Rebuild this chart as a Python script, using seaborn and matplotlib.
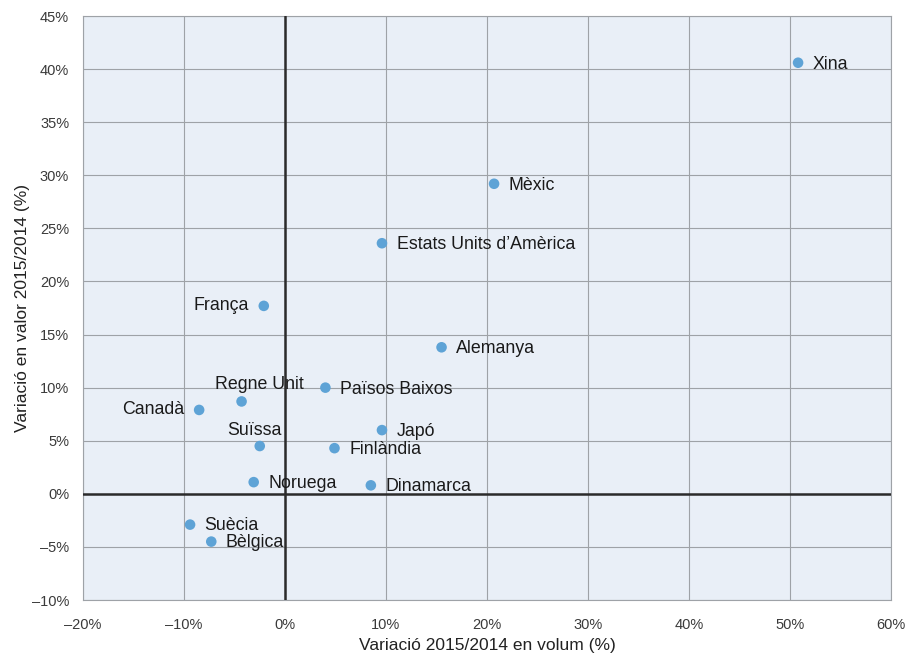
import matplotlib
matplotlib.use("Agg")
import matplotlib.pyplot as plt
import seaborn as sns
import pandas as pd
from matplotlib.ticker import FuncFormatter, MultipleLocator

countries = ["Xina", "Mèxic", "Estats Units d’Amèrica", "França", "Alemanya",
             "Regne Unit", "Països Baixos", "Canadà", "Suïssa", "Japó",
             "Finlàndia", "Noruega", "Dinamarca", "Suècia", "Bèlgica"]
volume = [50.8, 20.7, 9.6, -2.1, 15.5, -4.3, 4.0, -8.5, -2.5, 9.6, 4.9, -3.1, 8.5, -9.4, -7.3]
value = [40.6, 29.2, 23.6, 17.7, 13.8, 8.7, 10.0, 7.9, 4.5, 6.0, 4.3, 1.1, 0.8, -2.9, -4.5]
label_side = ["right", "right", "right", "left", "right", "above_right", "right", "left",
              "above", "right", "right", "right", "right", "right", "right"]

df = pd.DataFrame({"pais": countries, "vol": volume, "val": value, "side": label_side})

sns.set_theme(style="white")
plt.rcParams["font.family"] = ["Liberation Sans", "DejaVu Sans"]

fig = plt.figure(figsize=(9.08, 6.56), dpi=100)
ax = fig.add_axes([83 / 908, 1 - 600 / 656, (891 - 83) / 908, (600 - 16) / 656])
ax.set_facecolor("#e9eff7")

sns.scatterplot(data=df, x="vol", y="val", ax=ax, color="#5ea3d6", s=58,
                edgecolor="none", zorder=5)

ax.set_xlim(-20, 60)
ax.set_ylim(-10, 45)
ax.xaxis.set_major_locator(MultipleLocator(10))
ax.yaxis.set_major_locator(MultipleLocator(5))
fmt = FuncFormatter(lambda v, p: f"{v:.0f}%".replace("-", "–"))
ax.xaxis.set_major_formatter(fmt)
ax.yaxis.set_major_formatter(fmt)
ax.grid(True, color="#9ea2a7", linewidth=0.8)
ax.set_axisbelow(True)
ax.axhline(0, color="#2b2b2b", linewidth=1.8, zorder=3)
ax.axvline(0, color="#2b2b2b", linewidth=1.8, zorder=3)
for sp in ax.spines.values():
    sp.set_color("#9ea2a7")
    sp.set_linewidth(0.8)

ax.tick_params(axis="x", length=5, color="#9ea2a7", width=0.8, pad=8,
               labelsize=10.5, labelcolor="#3a3a3a")
ax.tick_params(axis="y", length=0, pad=10, labelsize=10.5, labelcolor="#3a3a3a")

ax.set_xlabel("Variació 2015/2014 en volum (%)", fontsize=12.5, color="#222222", labelpad=4)
ax.set_ylabel("Variació en valor 2015/2014 (%)", fontsize=12.5, color="#222222", labelpad=1)

offsets = {
    "right": ((10.5, -1), "left"),
    "left": ((-11, 0), "right"),
    "above_right": ((13, 12), "center"),
    "above": ((-3.5, 11.5), "center"),
}
for _, r in df.iterrows():
    off, ha = offsets[r.side]
    ax.annotate(r.pais, (r.vol, r.val), xytext=off, textcoords="offset points",
                ha=ha, va="center", fontsize=12.8, color="#1a1a1a", zorder=6)

fig.savefig("out.png", dpi=100)
